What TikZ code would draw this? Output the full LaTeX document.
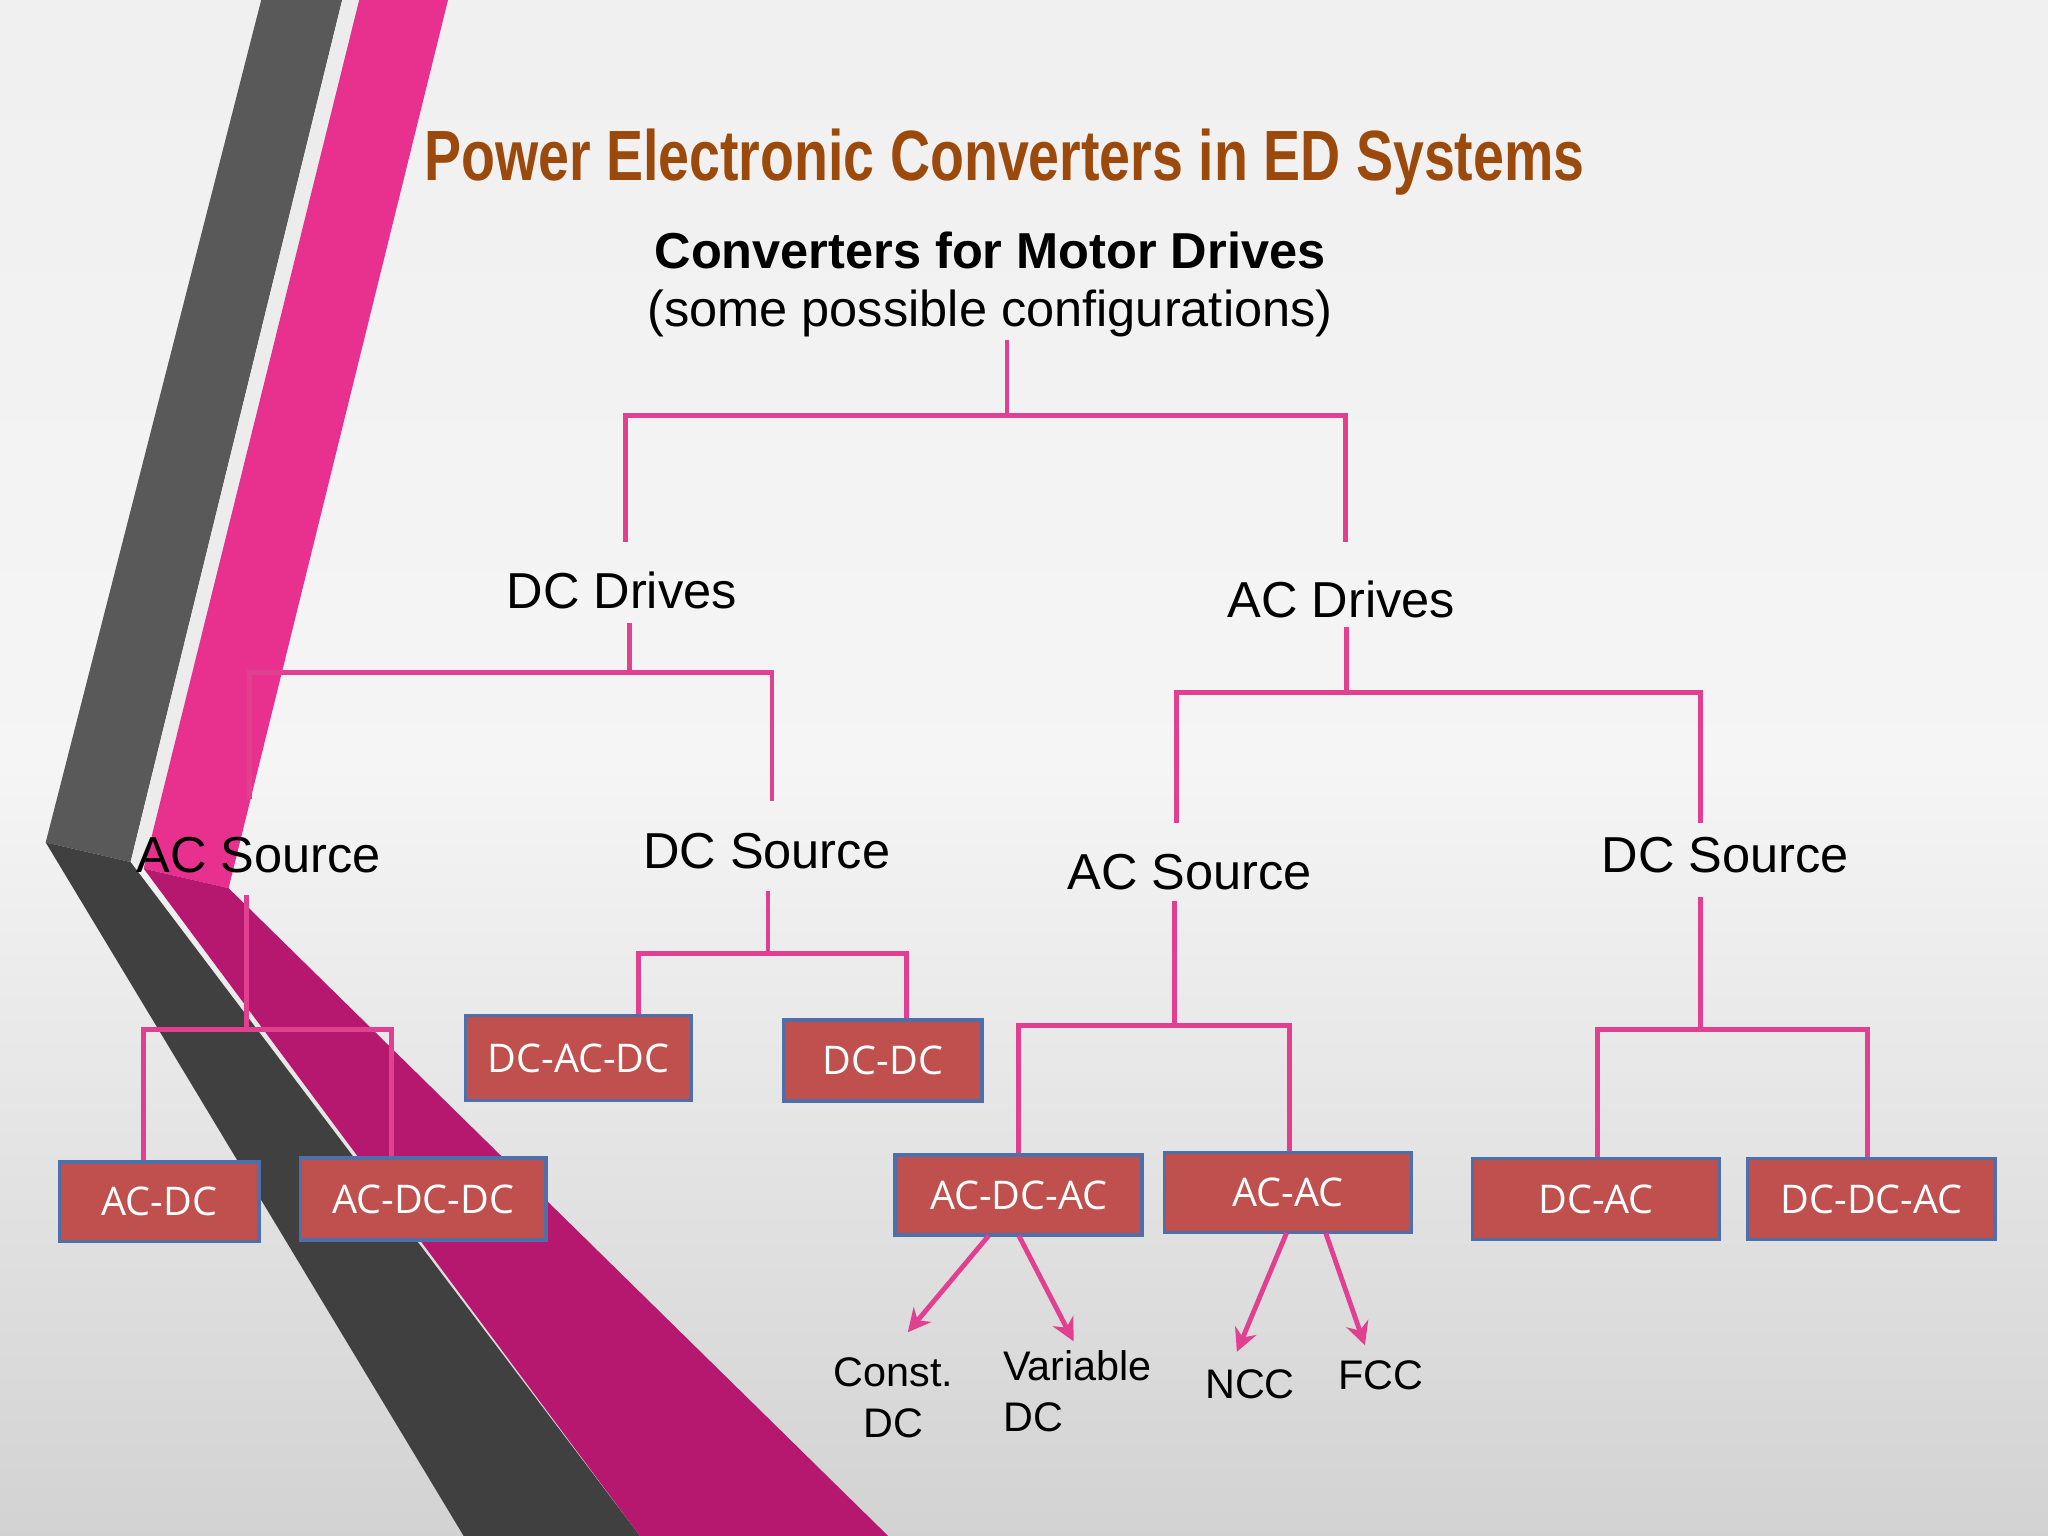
\documentclass[tikz,border=0pt]{standalone}
\usepackage{fontspec}
\setmainfont{Liberation Sans}
\newfontfamily\boxfont{Open Sans}
\usetikzlibrary{arrows.meta}
\definecolor{lnk}{HTML}{E0408F}
\definecolor{bx}{HTML}{C0504D}
\definecolor{bxb}{HTML}{4F6FA8}
\definecolor{ttl}{HTML}{9C4A0C}
\definecolor{pk}{HTML}{E8308F}
\definecolor{pkd}{HTML}{B5186E}
\begin{document}
\begin{tikzpicture}[x=0.01cm,y=-0.01cm,
  box/.style={draw=bxb,line width=0.8pt,fill=bx,text=white,font=\boxfont\fontsize{8.6pt}{10pt}\selectfont,inner sep=0pt},
  lab/.style={font=\fontsize{11pt}{13pt}\selectfont},
  sm/.style={font=\fontsize{9pt}{11pt}\selectfont,align=center},
  ln/.style={draw=lnk,line width=1.05pt},
  ar/.style={ln,-{Stealth[length=5pt,width=5pt]}}]
\useasboundingbox (0,0) rectangle (1568,1176);
\shade[top color=gray!12,bottom color=gray!35,middle color=gray!8] (0,0) rectangle (1568,1176);
% bands
\fill[black!65] (200,0) -- (262,0) -- (100,660) -- (35,645) -- cycle;
\fill[black!75] (35,645) -- (100,660) -- (490,1176) -- (355,1176) -- cycle;
\fill[white!85!gray] (262,0) -- (275,0) -- (112,665) -- (100,660) -- cycle;
\fill[pk] (275,0) -- (343,0) -- (175,680) -- (110,665) -- cycle;
\fill[pkd] (110,665) -- (175,680) -- (680,1176) -- (490,1176) -- cycle;
% titles
\node[text=ttl,font=\bfseries\fontsize{15.5pt}{18pt}\selectfont,xscale=0.78] (t) at (769,124) {Power Electronic Converters in ED Systems};
\node[font=\bfseries\fontsize{11pt}{13pt}\selectfont] (h1) at (758,192) {Converters for Motor Drives};
\node[lab] (h2) at (758,240) {(some possible configurations)};
\node[lab] (dcd) at (476,452) {DC Drives};
\node[lab] (acd) at (1027,459) {AC Drives};
\node[lab] (acs1) at (198,655) {AC Source};
\node[lab] (dcs1) at (587,652) {DC Source};
\node[lab] (acs2) at (911,668) {AC Source};
\node[lab] (dcs2) at (1321,655) {DC Source};
% boxes
\node[box,minimum width=1.52cm,minimum height=0.61cm] (b1) at (122,920) {AC-DC};
\node[box,minimum width=1.88cm,minimum height=0.63cm] (b2) at (324,918) {AC-DC-DC};
\node[box,minimum width=1.73cm,minimum height=0.65cm] (b3) at (443,810) {DC-AC-DC};
\node[box,minimum width=1.52cm,minimum height=0.62cm] (b4) at (676,812) {DC-DC};
\node[box,minimum width=1.89cm,minimum height=0.61cm] (b5) at (780,915) {AC-DC-AC};
\node[box,minimum width=1.89cm,minimum height=0.61cm] (b6) at (986,913) {AC-AC};
\node[box,minimum width=1.89cm,minimum height=0.62cm] (b7) at (1222,918) {DC-AC};
\node[box,minimum width=1.89cm,minimum height=0.62cm] (b8) at (1433,918) {DC-DC-AC};
% leaves
\node[sm] (l1) at (684,1070) {Const.\\DC};
\node[sm,align=left] (l2) at (825,1065) {Variable\\DC};
\node[sm] (l3) at (957,1060) {NCC};
\node[sm] (l4) at (1057,1053) {FCC};
% tree
\draw[ln] (771,260) -- (771,318) (479,415) -- (479,318) -- (1030,318) -- (1030,415);
\draw[ln] (482,477) -- (482,515) (191,612) -- (191,515) -- (591,515) -- (591,613);
\draw[ln] (189,685) -- (189,788) (b1.north -| 110,0) -- (110,788) -- (300,788) -- (b2.north -| 300,0);
\draw[ln] (588,682) -- (588,730) (b3.north -| 489,0) -- (489,730) -- (694,730) -- (b4.north -| 694,0);
\draw[ln] (1031,480) -- (1031,530) (901,630) -- (901,530) -- (1302,530) -- (1302,630);
\draw[ln] (899,690) -- (899,785) (b5.north -| 780,0) -- (780,785) -- (987,785) -- (b6.north -| 987,0);
\draw[ln] (1302,687) -- (1302,788) (b7.north -| 1223,0) -- (1223,788) -- (1430,788) -- (b8.north -| 1430,0);
\draw[ar] (757,946) -- (695,1020);
\draw[ar] (780,946) -- (822,1027);
\draw[ar] (985,944) -- (947,1035);
\draw[ar] (1015,944) -- (1045,1030);
\end{tikzpicture}
\end{document}
